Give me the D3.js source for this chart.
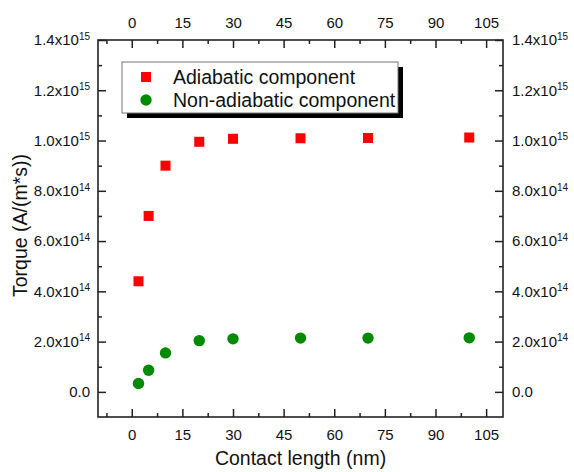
<!DOCTYPE html>
<html>
<head>
<meta charset="utf-8">
<script src="https://cdn.jsdelivr.net/npm/d3@7"></script>
<style>
  html, body { margin: 0; padding: 0; background: #fff; }
  svg { display: block; font-family: "Liberation Sans", Arial, sans-serif; }
</style>
</head>
<body>
<svg id="chart" width="574" height="472"></svg>
<script>
// Contact length (nm)
const lengths = [2, 5, 10, 20, 30, 50, 70, 100];
// Torque components, A/(m*s)
const adiabatic = [4.4e14, 7.0e14, 9.0e14, 9.95e14, 1.007e15, 1.009e15, 1.010e15, 1.012e15];
const nonAdiabatic = [3.3e13, 8.6e13, 1.55e14, 2.04e14, 2.11e14, 2.14e14, 2.14e14, 2.15e14];

const seriesNames = ["Adiabatic component", "Non-adiabatic component"];
const xMajorTicks = [0, 15, 30, 45, 60, 75, 90, 105];
const xMinorTicks = [-7.5, 7.5, 22.5, 37.5, 52.5, 67.5, 82.5, 97.5];
const yMajorTicks = [0, 2e14, 4e14, 6e14, 8e14, 1e15, 1.2e15, 1.4e15];
const yMinorTicks = [1e14, 3e14, 5e14, 7e14, 9e14, 1.1e15, 1.3e15];
const xTitle = "Contact length (nm)";
const yTitle = "Torque (A/(m*s))";

const svg = d3.select("#chart");
const frame = { left: 98, right: 503, top: 40, bottom: 417 };

const x = d3.scaleLinear().domain([-10, 110]).range([frame.left, frame.right]);
const y = d3.scaleLinear().domain([-1e14, 1.4e15]).range([frame.bottom, frame.top]);

const axisColor = "#222";
const tickFont = 15;

// Split a tick value into mantissa text and exponent
function sciParts(v) {
  if (v === 0) return { base: "0.0", exp: null };
  const e = Math.floor(Math.log10(v));
  const m = v / Math.pow(10, e);
  return { base: m.toFixed(1) + "x10", exp: String(e) };
}

function styleAxis(g) {
  g.selectAll(".domain").remove();
  g.selectAll(".tick line").attr("stroke", axisColor).attr("stroke-width", 1.5);
  g.selectAll(".tick text").attr("fill", "#111").style("font-size", tickFont + "px");
}

// Minor ticks (no labels)
function minor(axisFn, scale, ticks) {
  return axisFn(scale).tickValues(ticks).tickSizeInner(-4).tickSizeOuter(0).tickFormat("");
}

// Bottom axis
const gB = svg.append("g").attr("transform", `translate(0,${frame.bottom})`)
  .call(d3.axisBottom(x).tickValues(xMajorTicks).tickSizeInner(-8).tickSizeOuter(0).tickPadding(12));
styleAxis(gB);
svg.append("g").attr("transform", `translate(0,${frame.bottom})`)
  .call(minor(d3.axisBottom, x, xMinorTicks)).call(styleAxis);

// Top axis
const gT = svg.append("g").attr("transform", `translate(0,${frame.top})`)
  .call(d3.axisTop(x).tickValues(xMajorTicks).tickSizeInner(-8).tickSizeOuter(0).tickPadding(12));
styleAxis(gT);
svg.append("g").attr("transform", `translate(0,${frame.top})`)
  .call(minor(d3.axisTop, x, xMinorTicks)).call(styleAxis);

// Left axis
const gL = svg.append("g").attr("transform", `translate(${frame.left},0)`)
  .call(d3.axisLeft(y).tickValues(yMajorTicks).tickSizeInner(-8).tickSizeOuter(0).tickPadding(8));
styleAxis(gL);
svg.append("g").attr("transform", `translate(${frame.left},0)`)
  .call(minor(d3.axisLeft, y, yMinorTicks)).call(styleAxis);

// Right axis
const gR = svg.append("g").attr("transform", `translate(${frame.right},0)`)
  .call(d3.axisRight(y).tickValues(yMajorTicks).tickSizeInner(-8).tickSizeOuter(0).tickPadding(9));
styleAxis(gR);
svg.append("g").attr("transform", `translate(${frame.right},0)`)
  .call(minor(d3.axisRight, y, yMinorTicks)).call(styleAxis);

// Scientific labels with superscript exponents
[gL, gR].forEach(g => {
  g.selectAll(".tick text").each(function (d) {
    const p = sciParts(d);
    const t = d3.select(this).text(null);
    t.append("tspan").text(p.base);
    if (p.exp) {
      t.append("tspan").attr("dy", "-0.55em").style("font-size", "10px").text(p.exp);
    }
  });
});

// Plot frame
svg.append("rect")
  .attr("x", frame.left).attr("y", frame.top)
  .attr("width", frame.right - frame.left).attr("height", frame.bottom - frame.top)
  .attr("fill", "none").attr("stroke", axisColor).attr("stroke-width", 1.6);

// Data markers
const sq = 10;
svg.append("g").selectAll("rect")
  .data(lengths.map((l, i) => [l, adiabatic[i]]))
  .join("rect")
  .attr("x", d => x(d[0]) - sq / 2).attr("y", d => y(d[1]) - sq / 2)
  .attr("width", sq).attr("height", sq)
  .attr("fill", "#ff0000");

svg.append("g").selectAll("circle")
  .data(lengths.map((l, i) => [l, nonAdiabatic[i]]))
  .join("circle")
  .attr("cx", d => x(d[0])).attr("cy", d => y(d[1]))
  .attr("r", 5.7)
  .attr("fill", "#008a00");

// Axis titles
svg.append("text")
  .attr("x", (frame.left + frame.right) / 2).attr("y", 465)
  .attr("text-anchor", "middle").style("font-size", "19.5px").attr("fill", "#111")
  .text(xTitle);

svg.append("text")
  .attr("transform", `translate(27,${(frame.top + frame.bottom) / 2 - 3}) rotate(-90)`)
  .attr("text-anchor", "middle").style("font-size", "19.5px").attr("fill", "#111")
  .text(yTitle);

// Legend with drop shadow
const lg = svg.append("g");
const lx = 122, ly = 62, lw = 276, lh = 51;
lg.append("rect").attr("x", lx + 5).attr("y", ly + 5).attr("width", lw).attr("height", lh).attr("fill", "#000");
lg.append("rect").attr("x", lx).attr("y", ly).attr("width", lw).attr("height", lh)
  .attr("fill", "#fff").attr("stroke", "#777").attr("stroke-width", 1);
lg.append("rect").attr("x", 146 - sq / 2).attr("y", 77 - sq / 2).attr("width", sq).attr("height", sq).attr("fill", "#ff0000");
lg.append("circle").attr("cx", 146).attr("cy", 100).attr("r", 5.7).attr("fill", "#008a00");
lg.selectAll("text.lab").data(seriesNames).join("text")
  .attr("class", "lab")
  .attr("x", 173).attr("y", (d, i) => 84 + i * 23)
  .style("font-size", "19.5px").attr("fill", "#111")
  .text(d => d);
</script>
</body>
</html>
